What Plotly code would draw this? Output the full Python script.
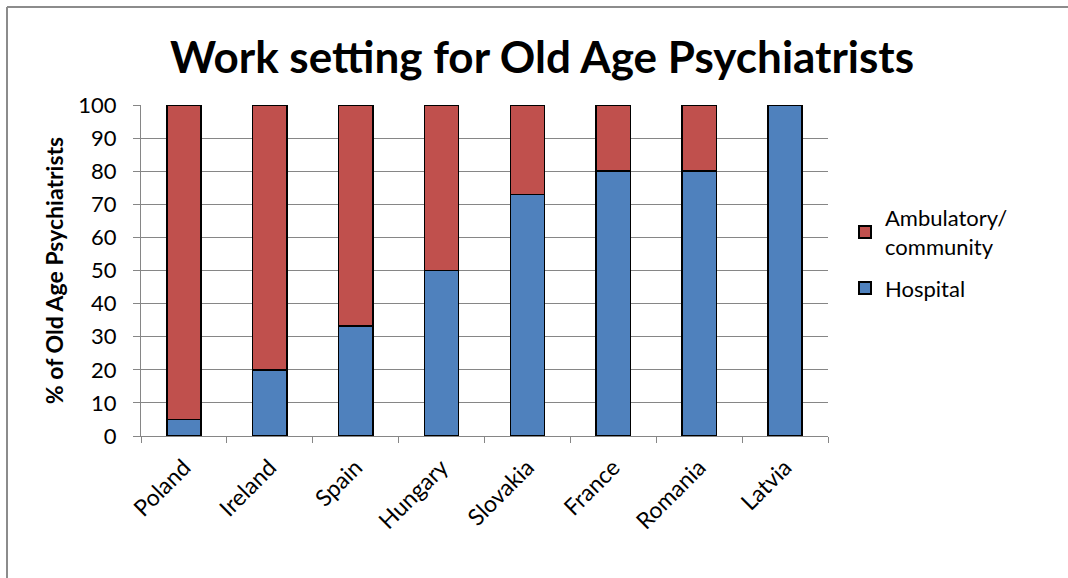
import plotly.graph_objects as go

countries = ["Poland", "Ireland", "Spain", "Hungary", "Slovakia", "France", "Romania", "Latvia"]
hospital = [5, 20, 33.3, 50, 73, 80, 80, 100]
ambulatory = [95, 80, 66.7, 50, 27, 20, 20, 0]

FONT = "Lato, 'Open Sans', sans-serif"
W, H = 1068, 578
L, R, T, B = 141, 240, 105, 142
PW, PH = W - L - R, H - T - B

fig = go.Figure()
fig.add_trace(go.Bar(
    x=countries, y=hospital, name="Hospital", legendgroup="h", legendrank=2,
    marker=dict(color="#4F81BD", line=dict(color="black", width=1.5)),
))
fig.add_trace(go.Bar(
    x=countries, y=ambulatory, name="Ambulatory/<br>community", legendgroup="a", legendrank=1,
    marker=dict(color="#C0504D", line=dict(color="black", width=1.5)),
))

# chart frame (top and left edges)
fx0 = (7 - L) / PW
fy1 = 1 + (T - 7) / PH
fy0 = -(B + 20) / PH
fx1 = 1 + (R + 20) / PW
fig.add_shape(type="line", xref="paper", yref="paper", x0=fx0, x1=fx1, y0=fy1, y1=fy1,
              line=dict(color="#8c8c8c", width=2))
fig.add_shape(type="line", xref="paper", yref="paper", x0=fx0, x1=fx0, y0=fy0, y1=fy1,
              line=dict(color="#8c8c8c", width=2))

fig.update_layout(
    width=W, height=H,
    margin=dict(l=L, r=R, t=T, b=B, pad=0),
    paper_bgcolor="white", plot_bgcolor="white",
    barmode="stack", bargap=0.6,
    font=dict(family=FONT, color="black"),
    title=dict(text="<b>Work setting for Old Age Psychiatrists</b>",
               x=542 / W, xanchor="center", y=1 - 58 / H, yanchor="middle",
               font=dict(size=44, family=FONT, color="black")),
    legend=dict(x=1 + (845 - L - PW) / PW, xanchor="left", y=1 - (197 - T) / PH, yanchor="top",
                traceorder="grouped", font=dict(size=22, family=FONT),
                itemsizing="constant", tracegroupgap=10, bgcolor="rgba(0,0,0,0)"),
    showlegend=True,
)
fig.update_xaxes(
    type="category", tickangle=-45, tickfont=dict(size=23, family=FONT),
    showline=True, linecolor="#868686", linewidth=1,
    ticks="outside", tickson="boundaries", ticklen=6, tickcolor="#868686",
    ticklabelstandoff=8, showgrid=False,
)
fig.update_yaxes(
    range=[0, 100], tickvals=list(range(0, 101, 10)), tickfont=dict(size=22, family=FONT),
    showline=True, linecolor="#868686", linewidth=1,
    ticks="outside", ticklen=7, tickcolor="#868686", ticklabelstandoff=12,
    showgrid=True, gridcolor="#868686", gridwidth=1, zeroline=False,
    title=dict(text="<b>% of Old Age Psychiatrists</b>", font=dict(size=23, family=FONT),
               standoff=8),
)

fig.write_html("out.html")
